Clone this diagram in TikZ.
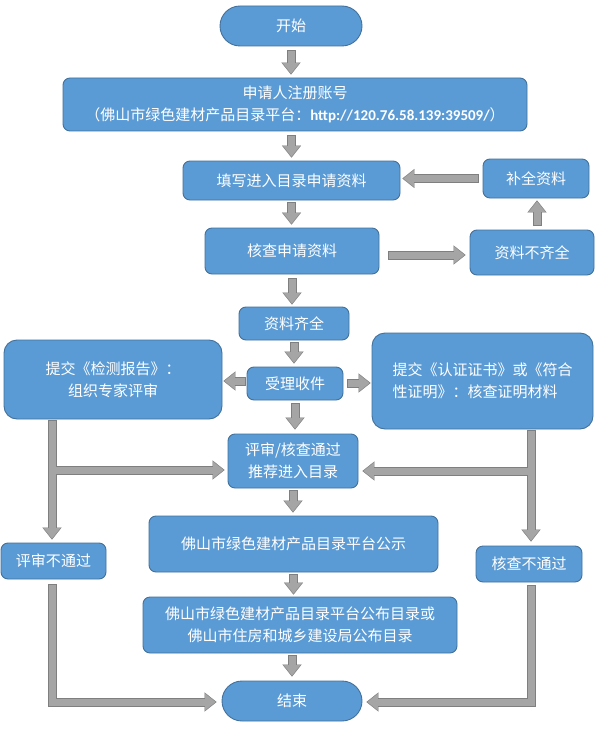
\documentclass[tikz,border=0pt]{standalone}
\usepackage{fontspec}
\setmainfont{Noto Sans CJK SC}
\newfontfamily\urlfont{Carlito}
\usetikzlibrary{arrows.meta,calc}
\definecolor{boxfill}{HTML}{5B9BD5}
\definecolor{boxedge}{HTML}{41719C}
\definecolor{arrfill}{HTML}{A5A5A5}
\definecolor{arredge}{HTML}{7F7F7F}
\tikzset{
  box/.style={draw=boxedge, fill=boxfill, line width=0.9pt, rounded corners=7pt,
    text=white, font=\fontsize{15}{22}\selectfont, inner sep=0pt, align=center},
  bigbox/.style={box, rounded corners=13pt},
  term/.style={box, rounded corners=20pt},
  arrout/.style={draw=arredge, line width=9pt, line join=miter,
    -{Triangle[length=12pt,width=19pt,line width=0.1pt]}},
  arrin/.style={draw=arrfill, line width=7pt, line join=miter, shorten >=1pt, shorten <=1pt,
    -{Triangle[length=10.4pt,width=16.4pt,line width=0.1pt]}},
}
\newcommand\barrow[1]{\draw[arrout] #1; \draw[arrin] #1;}
\begin{document}
\begin{tikzpicture}[x=1pt,y=-1pt]
\fill[white] (0,0) rectangle (597,733);
\useasboundingbox (0,0) rectangle (597,733);

\node[term, minimum width=142pt, minimum height=40pt] (start) at (291,26) {开始};
\node[box, minimum width=464pt, minimum height=53pt] (reg) at (295,104.5)
  {申请人注册账号\\（佛山市绿色建材产品目录平台：{\urlfont\bfseries http://120.76.58.139:39509/}）};
\node[box, minimum width=217pt, minimum height=39pt] (fill) at (291.5,180.5) {填写进入目录申请资料};
\node[box, minimum width=106pt, minimum height=39pt] (supp) at (536,178.5) {补全资料};
\node[box, minimum width=174pt, minimum height=46pt] (check) at (292,251) {核查申请资料};
\node[box, minimum width=124pt, minimum height=45pt] (incomp) at (532,252.5) {资料不齐全};
\node[box, minimum width=110pt, minimum height=33pt] (comp) at (294,323.5) {资料齐全};
\node[box, minimum width=96pt, minimum height=33pt] (accept) at (295,383.5) {受理收件};
\node[bigbox, minimum width=218pt, minimum height=79pt] (leftbox) at (113,379.5)
  {提交《检测报告》：\\组织专家评审};
\node[bigbox, minimum width=221pt, minimum height=96pt, align=left] (rightbox) at (482.5,381)
  {提交《认证证书》或《符合\\性证明》：核查证明材料};
\node[box, minimum width=130pt, minimum height=54pt] (pass) at (293,461)
  {评审/核查通过\\推荐进入目录};
\node[box, minimum width=289pt, minimum height=56pt] (pub) at (293.5,544) {佛山市绿色建材产品目录平台公示};
\node[box, minimum width=105pt, minimum height=36pt] (failL) at (53.5,561) {评审不通过};
\node[box, minimum width=106pt, minimum height=36pt] (failR) at (529,564) {核查不通过};
\node[box, minimum width=314pt, minimum height=56pt] (publish) at (300,625)
  {佛山市绿色建材产品目录平台公布目录或\\佛山市住房和城乡建设局公布目录};
\node[term, minimum width=140pt, minimum height=40pt] (end) at (292,701) {结束};

% main column
\barrow{($(start.south)+(0,4)$) -- ($(start.south |- reg.north)+(0,-3)$)}
\barrow{($(fill.north |- reg.south)+(0,4)$) -- ($(fill.north)+(0,-3)$)}
\barrow{($(fill.south)+(0,2)$) -- ($(fill.south |- check.north)+(0,-3)$)}
\barrow{($(check.south)+(0,4)$) -- ($(check.south |- comp.north)+(0,-2)$)}
\barrow{($(comp.south)+(0,2)$) -- ($(comp.south |- accept.north)+(0,-3)$)}
\barrow{($(accept.south)+(0,3)$) -- ($(accept.south |- pass.north)+(0,-4)$)}
\barrow{($(pass.south)+(0,2)$) -- ($(pass.south |- pub.north)+(0,-3)$)}
\barrow{($(pub.south)+(0,2)$) -- ($(pub.south |- publish.north)+(0,-2)$)}
\barrow{($(end.north |- publish.south)+(0,2)$) -- ($(end.north)+(0,-4)$)}

% side loop
\coordinate (c1) at ($(check.east)+(0,4)$);
\barrow{($(c1)+(9,0)$) -- ($(c1 -| incomp.west)+(-4,0)$)}
\coordinate (c2) at ($(incomp.north)+(5,0)$);
\barrow{($(c2)+(0,-4)$) -- ($(c2 |- supp.south)+(0,2)$)}
\coordinate (c3) at ($(supp.west)+(0,0)$);
\barrow{($(c3)+(-4,0)$) -- ($(c3 -| fill.east)+(2,0)$)}

% accept to sides
\coordinate (c4) at ($(accept.west)+(0,-2.5)$);
\barrow{($(c4)+(-1,0)$) -- ($(c4 -| leftbox.east)+(1,0)$)}
\coordinate (c5) at ($(accept.east)+(0,-0.5)$);
\barrow{($(c5)+(4,0)$) -- ($(c5 -| rightbox.west)+(-1,0)$)}

% left and right branches
\coordinate (bl) at ($(pass.west)+(0,9)$);
\coordinate (br) at ($(pass.east)+(0,10)$);
\coordinate (xl) at ($(failL.north)+(-1.5,0)$);
\coordinate (xr) at ($(failR.north)+(2,0)$);
\draw[arrout] ($(xl |- leftbox.south)+(0,1)$) -- ($(xl)+(0,-3)$);
\draw[arrout] (xl |- bl) -- ($(bl)+(-3,0)$);
\draw[arrin] ($(xl |- leftbox.south)+(0,1)$) -- ($(xl)+(0,-3)$);
\draw[arrin] ($(xl |- bl)+(0,0)$) -- ($(bl)+(-3,0)$);
\draw[arrout] ($(xr |- rightbox.south)+(0,1)$) -- ($(xr)+(0,-4)$);
\draw[arrout] (xr |- br) -- ($(br)+(4,0)$);
\draw[arrin] ($(xr |- rightbox.south)+(0,1)$) -- ($(xr)+(0,-4)$);
\draw[arrin] (xr |- br) -- ($(br)+(4,0)$);

% to end
\barrow{($(failL.south)+(-1.5,5)$) |- ($(end.west)+(-5,1)$)}
\barrow{($(failR.south)+(2,3)$) |- ($(end.east)+(4,1)$)}
\end{tikzpicture}
\end{document}
